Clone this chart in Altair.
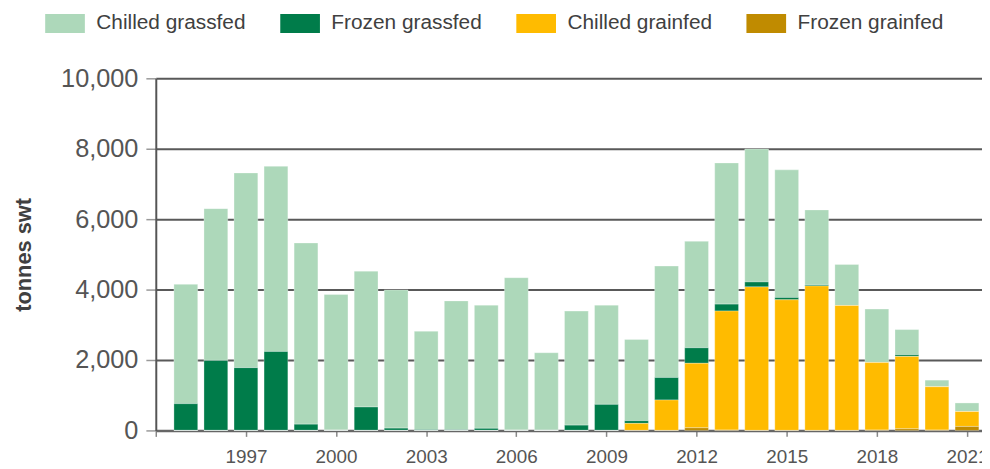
import altair as alt
import pandas as pd

years = list(range(1995, 2022))
chilled_grassfed = [3389, 4310, 5530, 5259, 5147, 3849, 3859, 3925, 2792, 3659,
                    3498, 4328, 2201, 3239, 2818, 2308, 3164, 3025, 4010, 3775,
                    3624, 2131, 1165, 1520, 714, 188, 244]
frozen_grassfed = [760, 1989, 1783, 2243, 177, 10, 665, 65, 25, 20,
                   60, 10, 5, 150, 740, 75, 640, 441, 197, 141,
                   66, 28, 0, 0, 47, 0, 0]
chilled_grainfed = [0, 0, 0, 0, 0, 0, 0, 0, 0, 0,
                    0, 0, 0, 0, 0, 200, 864, 1831, 3380, 4076,
                    3710, 4104, 3549, 1916, 2056, 1230, 423]
frozen_grainfed = [0, 0, 0, 0, 0, 0, 0, 0, 0, 0,
                   0, 0, 0, 0, 0, 0, 0, 75, 10, 0,
                   0, 0, 0, 10, 47, 10, 113]

series = ["Chilled grassfed", "Frozen grassfed", "Chilled grainfed", "Frozen grainfed"]
colors = ["#ADD8BA", "#007C4A", "#FFBB00", "#C08B00"]
stack_rank = {"Frozen grainfed": 0, "Chilled grainfed": 1,
              "Frozen grassfed": 2, "Chilled grassfed": 3}
y_ticks = [0, 2000, 4000, 6000, 8000, 10000]
x_ticks = list(range(1994, 2022, 3))

rows = []
for name, vals in zip(series, [chilled_grassfed, frozen_grassfed,
                               chilled_grainfed, frozen_grainfed]):
    for yr, v in zip(years, vals):
        rows.append({"year": yr, "series": name, "value": v,
                     "rank": stack_rank[name]})
df = pd.DataFrame(rows)

FONT = "Liberation Sans"

chart = alt.Chart(df).mark_bar(
    size=24, stroke="white", strokeWidth=0.6, strokeOpacity=0.5
).encode(
    x=alt.X("year:Q",
            scale=alt.Scale(domain=[1994, 2021.5], nice=False, zero=False,
                            padding=0),
            axis=alt.Axis(values=x_ticks, format="d",
                          labelExpr="datum.value == 1994 ? '' : datum.label",
                          title=None, grid=False,
                          domainColor="#666666", domainWidth=2.5,
                          tickColor="#888888", tickSize=6, tickWidth=1.5,
                          labelFont=FONT, labelFontSize=19, labelColor="#555555",
                          labelPadding=11, labelFlush=False, labelOverlap=False)),
    y=alt.Y("value:Q", stack="zero",
            scale=alt.Scale(domain=[0, 10000], nice=False, padding=0),
            axis=alt.Axis(values=y_ticks, format=",d",
                          title="tonnes swt", titleFont=FONT, titleFontSize=22,
                          titleFontWeight="bold", titleColor="#404040",
                          titleAngle=-90, titleX=-133, titleY=177.5,
                          titleAlign="center", titleBaseline="middle",
                          grid=True, gridColor="#595959", gridWidth=2,
                          domainColor="#555555", domainWidth=2,
                          tickColor="#999999", tickSize=10, tickWidth=1.5,
                          labelFont=FONT, labelFontSize=25.5, labelColor="#555555",
                          labelPadding=8)),
    color=alt.Color("series:N",
                    scale=alt.Scale(domain=series, range=colors),
                    legend=alt.Legend(title=None, orient="none",
                                      legendX=-112, legendY=-66,
                                      direction="horizontal", columns=4,
                                      symbolType="M-1,-0.95H3V0.95H-1Z",
                                      symbolSize=400, symbolStrokeWidth=0,
                                      symbolOpacity=1,
                                      labelFont=FONT, labelFontSize=21,
                                      labelColor="#404040", labelOffset=31,
                                      labelLimit=400, columnPadding=34,
                                      padding=0)),
    order=alt.Order("rank:Q", sort="ascending"),
).properties(
    width=833, height=355,
    autosize=alt.AutoSizeParams(type="none"),
    padding={"left": 149, "top": 69, "right": 0, "bottom": 37},
).configure_view(stroke=None)

chart.save("out.html", embed_options={"renderer": "svg", "actions": False})
